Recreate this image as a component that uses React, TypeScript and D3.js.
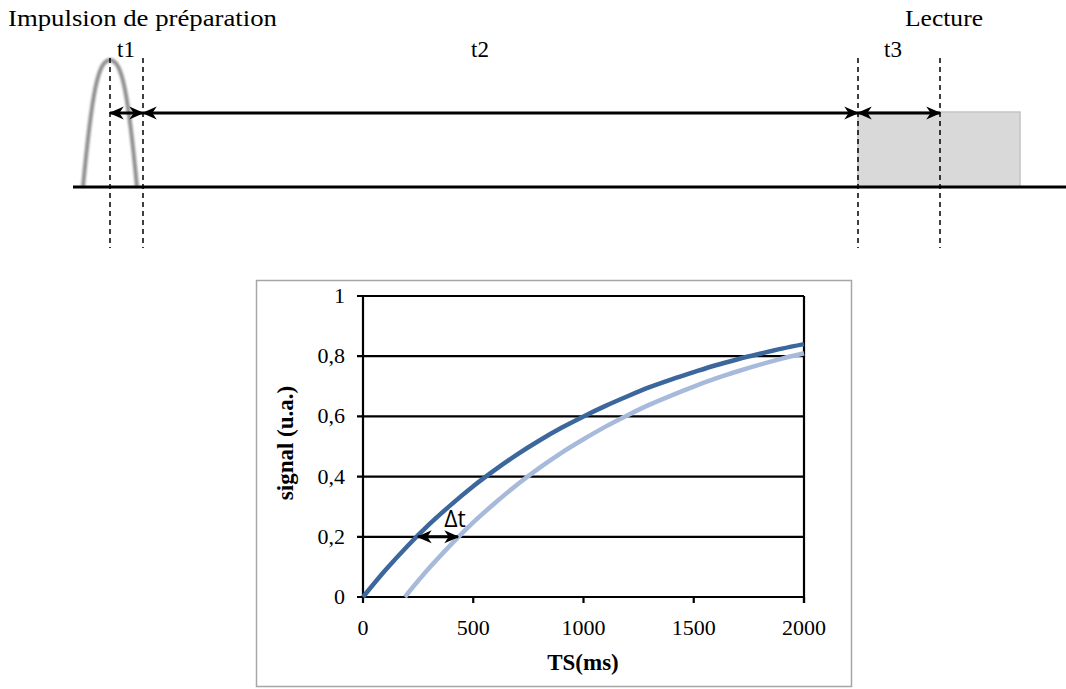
import React from "react";
import * as d3 from "d3";

// ---- Chart data ----
const tsDark = [0, 100, 200, 300, 400, 500, 600, 700, 800, 900, 1000, 1100, 1200, 1300, 1400, 1500, 1600, 1700, 1800, 1900, 2000];
const signalDark = [0, 0.088, 0.168, 0.241, 0.307, 0.368, 0.423, 0.474, 0.52, 0.562, 0.6, 0.635, 0.667, 0.697, 0.723, 0.747, 0.77, 0.79, 0.808, 0.825, 0.84];
const tsLight = [190, 200, 300, 400, 500, 600, 700, 800, 900, 1000, 1100, 1200, 1300, 1400, 1500, 1600, 1700, 1800, 1900, 2000];
const signalLight = [0, 0.009, 0.096, 0.175, 0.248, 0.313, 0.374, 0.429, 0.479, 0.524, 0.566, 0.604, 0.639, 0.67, 0.699, 0.726, 0.75, 0.772, 0.792, 0.81];
const xTicks = [0, 500, 1000, 1500, 2000];
const yTicks = [0, 0.2, 0.4, 0.6, 0.8, 1];
const deltaT = { level: 0.2, from: 249, to: 431 };

// ---- Timing diagram events (schematic time units) ----
const pulse = { start: 83, peak: 110, end: 137 };
const t1 = [110, 143];
const t2 = [143, 858];
const t3 = [858, 940];
const readout = [858, 1020];

const serif = "'Liberation Serif', 'Times New Roman', serif";

export default function App() {
  const W = 1066, H = 689;
  const x = d3.scaleLinear().domain([0, 2000]).range([363, 804]);
  const y = d3.scaleLinear().domain([0, 1]).range([597, 296]);
  const line = d3.line<[number, number]>().x(d => x(d[0])).y(d => y(d[1])).curve(d3.curveMonotoneX);
  const darkPts: [number, number][] = tsDark.map((t, i) => [t, signalDark[i]]);
  const lightPts: [number, number][] = tsLight.map((t, i) => [t, signalLight[i]]);

  // diagram scale
  const tx = d3.scaleLinear().domain([0, 1066]).range([0, 1066]);
  const baseY = 187, pulseTop = 60, arrowY = 113;

  const pulsePath = `M${tx(pulse.start)},${baseY} C${tx(pulse.start) + 9},${baseY - 95} ${tx(pulse.peak) - 12},${pulseTop} ${tx(pulse.peak)},${pulseTop} C${tx(pulse.peak) + 12},${pulseTop} ${tx(pulse.end) - 9},${baseY - 95} ${tx(pulse.end)},${baseY}`;

  const dashXs = [t1[0], t1[1], t3[0], t3[1]];

  return (
    <svg width={W} height={H} style={{ position: "absolute", left: 0, top: 0, background: "#fff" }} fontFamily={serif}>
      <defs>
        <marker id="ah" viewBox="0 0 12 12" refX="11" refY="6" markerWidth="15" markerHeight="15" markerUnits="userSpaceOnUse" orient="auto-start-reverse">
          <path d="M0,0.8 L12,6 L0,11.2 L3.5,6 Z" fill="#000" />
        </marker>
        <filter id="blur" x="-20%" y="-20%" width="140%" height="140%">
          <feGaussianBlur stdDeviation="0.9" />
        </filter>
      </defs>

      {/* ---------- Timing diagram ---------- */}
      <text x={8} y={26} fontSize={23} textLength={269} lengthAdjust="spacingAndGlyphs">Impulsion de préparation</text>
      <text x={905} y={26} fontSize={23} textLength={78} lengthAdjust="spacingAndGlyphs">Lecture</text>
      <text x={126} y={57} fontSize={23} textAnchor="middle">t1</text>
      <text x={480} y={57} fontSize={23} textAnchor="middle">t2</text>
      <text x={893} y={57} fontSize={23} textAnchor="middle">t3</text>

      <rect x={tx(readout[0])} y={arrowY - 1} width={tx(readout[1]) - tx(readout[0])} height={baseY - arrowY + 1} fill="#d9d9d9" stroke="#c3c3c3" strokeWidth={1.5} />

      <path d={pulsePath} fill="none" stroke="#8f8f8f" strokeWidth={4} filter="url(#blur)" />

      <line x1={73} x2={1066} y1={baseY} y2={baseY} stroke="#000" strokeWidth={3} />

      {dashXs.map((d, i) => (
        <line key={i} x1={tx(d)} x2={tx(d)} y1={58} y2={248} stroke="#000" strokeWidth={1.5} strokeDasharray="5,4" />
      ))}

      {[t1, t2, t3].map((seg, i) => (
        <line key={i} x1={tx(seg[0])} x2={tx(seg[1])} y1={arrowY} y2={arrowY} stroke="#000" strokeWidth={3} markerStart="url(#ah)" markerEnd="url(#ah)" />
      ))}

      {/* ---------- Chart ---------- */}
      <rect x={256.5} y={280.5} width={595} height={406} fill="#fff" stroke="#a6a6a6" strokeWidth={1.5} />

      {yTicks.map(v => (
        <g key={v}>
          <line x1={x(0) - 6} x2={x(2000)} y1={y(v)} y2={y(v)} stroke="#000" strokeWidth={2.2} />
          <text x={x(0) - 18} y={y(v) + 7} fontSize={22} textAnchor="end">{String(v).replace(".", ",")}</text>
        </g>
      ))}
      <line x1={x(0)} x2={x(0)} y1={y(1)} y2={y(0)} stroke="#000" strokeWidth={2.2} />
      <line x1={x(2000)} x2={x(2000)} y1={y(1)} y2={y(0) + 6} stroke="#000" strokeWidth={2.2} />
      {xTicks.map(v => (
        <g key={v}>
          <line x1={x(v)} x2={x(v)} y1={y(0)} y2={y(0) + 6} stroke="#000" strokeWidth={2.2} />
          <text x={x(v)} y={635} fontSize={22} textAnchor="middle">{v}</text>
        </g>
      ))}

      <path d={line(lightPts) || ""} fill="none" stroke="#a7badb" strokeWidth={4.5} />
      <path d={line(darkPts) || ""} fill="none" stroke="#3c679c" strokeWidth={4.5} />

      <line x1={x(deltaT.from)} x2={x(deltaT.to)} y1={y(deltaT.level)} y2={y(deltaT.level)} stroke="#000" strokeWidth={3} markerStart="url(#ah)" markerEnd="url(#ah)" />
      <text x={455} y={527} fontSize={23} textAnchor="middle" fontFamily="'Open Sans', 'DejaVu Sans', sans-serif">Δt</text>

      <text x={583} y={670} fontSize={23} fontWeight="bold" textAnchor="middle">TS(ms)</text>
      <text transform={`translate(293,443) rotate(-90)`} fontSize={23} fontWeight="bold" textAnchor="middle">signal (u.a.)</text>
    </svg>
  );
}
